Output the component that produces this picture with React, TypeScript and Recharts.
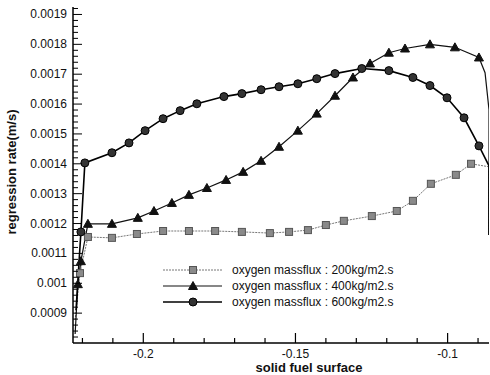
import React from 'react';
import { LineChart, Line, XAxis, YAxis } from 'recharts';

// regression rate along the solid fuel surface
const flux200 = [
  { x: -0.2224, y: 0.000877 },
  { x: -0.2208, y: 0.001034 },
  { x: -0.2182, y: 0.001155 },
  { x: -0.2103, y: 0.001152 },
  { x: -0.2021, y: 0.001165 },
  { x: -0.1935, y: 0.001175 },
  { x: -0.185, y: 0.001175 },
  { x: -0.1764, y: 0.001175 },
  { x: -0.1676, y: 0.001172 },
  { x: -0.1584, y: 0.001168 },
  { x: -0.1521, y: 0.001172 },
  { x: -0.1459, y: 0.001178 },
  { x: -0.14, y: 0.001195 },
  { x: -0.1341, y: 0.001209 },
  { x: -0.1249, y: 0.001225 },
  { x: -0.1167, y: 0.001242 },
  { x: -0.1114, y: 0.001276 },
  { x: -0.1055, y: 0.001333 },
  { x: -0.0973, y: 0.001363 },
  { x: -0.0923, y: 0.0014 },
  { x: -0.0864, y: 0.00139 },
  { x: -0.0864, y: 0.001162 },
];

const flux400 = [
  { x: -0.2224, y: 0.00083 },
  { x: -0.2215, y: 0.000997 },
  { x: -0.2205, y: 0.001074 },
  { x: -0.2182, y: 0.001199 },
  { x: -0.2103, y: 0.001199 },
  { x: -0.2018, y: 0.001219 },
  { x: -0.1965, y: 0.001242 },
  { x: -0.1906, y: 0.001269 },
  { x: -0.185, y: 0.001296 },
  { x: -0.1791, y: 0.001319 },
  { x: -0.1728, y: 0.001346 },
  { x: -0.1672, y: 0.001373 },
  { x: -0.1613, y: 0.00141 },
  { x: -0.1554, y: 0.001457 },
  { x: -0.1492, y: 0.001511 },
  { x: -0.143, y: 0.001568 },
  { x: -0.137, y: 0.001628 },
  { x: -0.1311, y: 0.001689 },
  { x: -0.1255, y: 0.001736 },
  { x: -0.1193, y: 0.001772 },
  { x: -0.114, y: 0.001786 },
  { x: -0.1058, y: 0.0018 },
  { x: -0.0976, y: 0.00179 },
  { x: -0.0897, y: 0.001756 },
  { x: -0.0877, y: 0.001705 },
  { x: -0.0864, y: 0.001581 },
  { x: -0.0864, y: 0.001162 },
];

const flux600 = [
  { x: -0.2221, y: 0.00091 },
  { x: -0.2205, y: 0.001172 },
  { x: -0.2192, y: 0.001403 },
  { x: -0.2103, y: 0.001437 },
  { x: -0.2047, y: 0.00147 },
  { x: -0.1994, y: 0.001511 },
  { x: -0.1935, y: 0.001551 },
  { x: -0.1879, y: 0.001578 },
  { x: -0.1824, y: 0.001601 },
  { x: -0.1735, y: 0.001625 },
  { x: -0.1676, y: 0.001635 },
  { x: -0.1613, y: 0.001648 },
  { x: -0.1554, y: 0.001658 },
  { x: -0.1492, y: 0.001668 },
  { x: -0.143, y: 0.001685 },
  { x: -0.137, y: 0.001702 },
  { x: -0.1282, y: 0.001719 },
  { x: -0.1193, y: 0.001712 },
  { x: -0.1114, y: 0.001689 },
  { x: -0.1058, y: 0.001662 },
  { x: -0.1002, y: 0.001621 },
  { x: -0.0946, y: 0.001554 },
  { x: -0.0897, y: 0.00146 },
  { x: -0.0864, y: 0.001393 },
  { x: -0.0864, y: 0.001162 },
];

const seriesNames = [
  'oxygen massflux : 200kg/m2.s',
  'oxygen massflux : 400kg/m2.s',
  'oxygen massflux : 600kg/m2.s',
];

const xLabels = [-0.2, -0.15, -0.1];
const xTicks = [-0.22, -0.21, -0.2, -0.19, -0.18, -0.17, -0.16, -0.15, -0.14, -0.13, -0.12, -0.11, -0.1, -0.09];
const yLabels = [0.0009, 0.001, 0.0011, 0.0012, 0.0013, 0.0014, 0.0015, 0.0016, 0.0017, 0.0018, 0.0019];
const yTicks = Array.from({ length: 56 }, (_, i) => +(0.00082 + i * 0.00002).toFixed(5));

const X_DOMAIN = [-0.2231, -0.0864];
const Y_DOMAIN = [0.0008, 0.001925];
const FONT = '"Liberation Sans", Arial, sans-serif';

const isLabel = (list: number[], v: number) => list.some((l) => Math.abs(l - v) < 1e-9);

const Marker = ({ kind, cx, cy }: { kind: string; cx: number; cy: number }) => {
  if (kind === 'square') {
    return <rect x={cx - 3.5} y={cy - 3.5} width={7} height={7} fill="#8a8a8a" stroke="#555" strokeWidth={1} />;
  }
  if (kind === 'triangle') {
    return <path d={`M${cx},${cy - 4.5} L${cx + 4.5},${cy + 3.5} L${cx - 4.5},${cy + 3.5} Z`} fill="#111" stroke="#111" />;
  }
  return <circle cx={cx} cy={cy} r={4} fill="#333" stroke="#000" strokeWidth={1} />;
};

const makeDot = (kind: string) => (props: any) => {
  const { cx, cy, payload, index } = props;
  if (payload.x < -0.222 || payload.x > -0.088) return <g key={`d-${index}`} />;
  return <Marker key={`d-${index}`} kind={kind} cx={cx} cy={cy} />;
};

const XTick = ({ x, y, payload }: any) => {
  const major = isLabel(xLabels, payload.value);
  return (
    <g>
      <line x1={x} x2={x} y1={y} y2={y - (major ? 10 : 5)} stroke="#000" strokeWidth={1.2} />
      {major && (
        <text x={x} y={y + 15} textAnchor="middle" fontSize={12} fontFamily={FONT} fill="#111">
          {payload.value}
        </text>
      )}
    </g>
  );
};

const YTick = ({ x, y, payload }: any) => {
  const major = isLabel(yLabels, payload.value);
  return (
    <g>
      <line x1={x} x2={x + (major ? 9 : 5)} y1={y} y2={y} stroke="#000" strokeWidth={1} />
      {major && (
        <text x={x - 6} y={y + 4} textAnchor="end" fontSize={12} fontFamily={FONT} fill="#111">
          {String(payload.value)}
        </text>
      )}
    </g>
  );
};

const styles = [
  { kind: 'square', stroke: '#777', width: 1, dash: '2 1' },
  { kind: 'triangle', stroke: '#111', width: 1.2, dash: undefined },
  { kind: 'circle', stroke: '#000', width: 1.6, dash: undefined },
];

const App = () => {
  const datasets = [flux200, flux400, flux600];
  return (
    <div style={{ position: 'absolute', left: 0, top: 0, width: 490, height: 375, background: '#fff' }}>
      <LineChart width={490} height={375} margin={{ top: 7, right: 1, left: 0, bottom: 0 }}>
        <XAxis
          type="number"
          dataKey="x"
          domain={X_DOMAIN}
          allowDataOverflow
          ticks={xTicks}
          interval={0}
          tickSize={0}
          tickMargin={0}
          tickLine={false}
          tick={<XTick />}
          height={32}
          axisLine={{ stroke: '#000', strokeWidth: 1.5 }}
          label={{
            content: ({ viewBox }: any) => (
              <text
                x={viewBox.x + viewBox.width / 2 + 28}
                y={viewBox.y + 29}
                textAnchor="middle"
                fontSize={13}
                fontWeight="bold"
                fontFamily={FONT}
                fill="#111"
              >
                solid fuel surface
              </text>
            ),
          }}
        />
        <XAxis
          xAxisId="top"
          orientation="top"
          type="number"
          dataKey="x"
          domain={X_DOMAIN}
          allowDataOverflow
          height={0}
          tick={false}
          tickLine={false}
          axisLine={{ stroke: '#000', strokeWidth: 1.5 }}
        />
        <YAxis
          type="number"
          domain={Y_DOMAIN}
          allowDataOverflow
          ticks={yTicks}
          interval={0}
          tickSize={0}
          tickMargin={0}
          tickLine={false}
          tick={<YTick />}
          width={73}
          axisLine={{ stroke: '#000', strokeWidth: 1.5 }}
          label={{
            content: ({ viewBox }: any) => {
              const cx = 13;
              const cy = viewBox.y + viewBox.height / 2 - 3;
              return (
                <text
                  x={cx}
                  y={cy}
                  transform={`rotate(-90 ${cx} ${cy})`}
                  textAnchor="middle"
                  dominantBaseline="middle"
                  fontSize={13}
                  fontWeight="bold"
                  fontFamily={FONT}
                  fill="#111"
                >
                  regression rate(m/s)
                </text>
              );
            },
          }}
        />
        {datasets.map((d, i) => (
          <Line
            key={seriesNames[i]}
            data={d}
            dataKey="y"
            name={seriesNames[i]}
            type="linear"
            stroke={styles[i].stroke}
            strokeWidth={styles[i].width}
            strokeDasharray={styles[i].dash}
            dot={makeDot(styles[i].kind)}
            activeDot={false}
            isAnimationActive={false}
          />
        ))}
      </LineChart>
      <svg
        width={270}
        height={50}
        style={{ position: 'absolute', left: 160, top: 261 }}
      >
        {seriesNames.map((name, i) => {
          const y = 9 + i * 16;
          return (
            <g key={name}>
              <line
                x1={3}
                x2={62}
                y1={y}
                y2={y}
                stroke={styles[i].stroke}
                strokeWidth={styles[i].width}
                strokeDasharray={styles[i].dash}
              />
              <Marker kind={styles[i].kind} cx={33} cy={y} />
              <text x={72} y={y + 4} fontSize={12} fontFamily={FONT} fill="#111">
                {name}
              </text>
            </g>
          );
        })}
      </svg>
    </div>
  );
};

export default App;
